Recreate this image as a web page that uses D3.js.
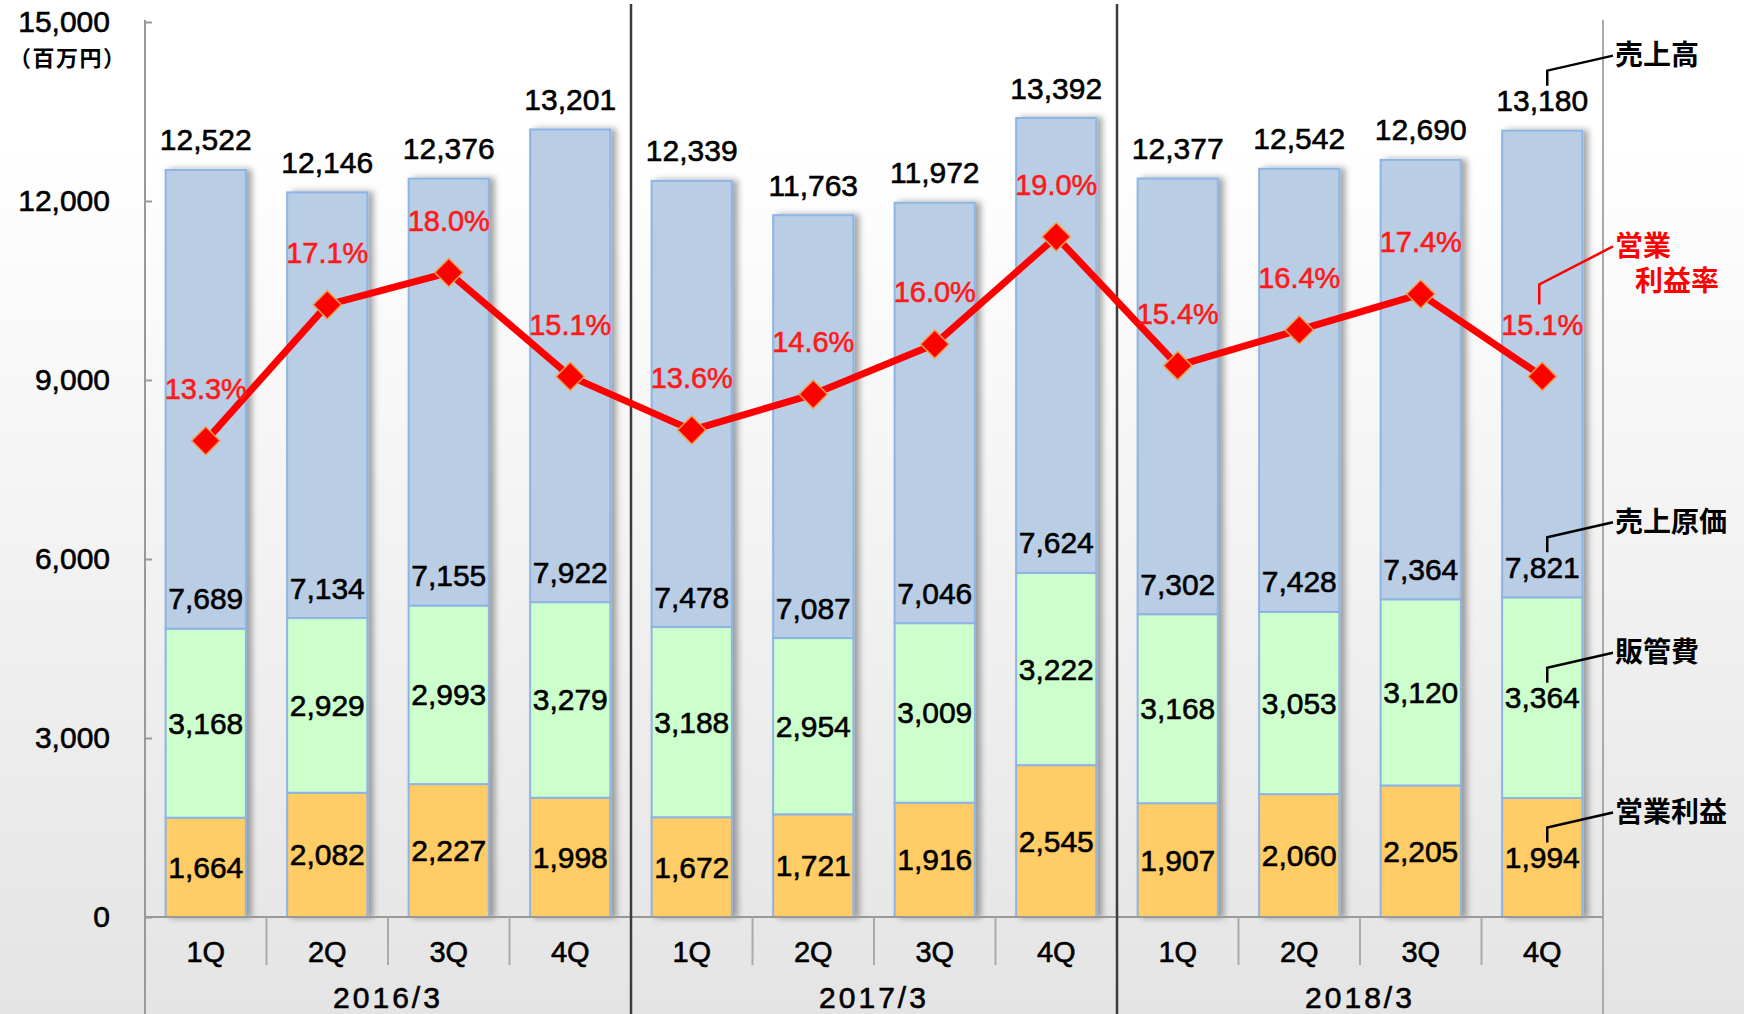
<!DOCTYPE html>
<html lang='ja'>
<head>
    <title>売上高・営業利益率 四半期推移</title>
    <meta charset='UTF-8'>
    <script src='https://d3js.org/d3.v7.min.js'></script>
    <style>
      body { margin: 0; background: #fff; }
      svg text { font-family: 'Liberation Sans', Arial, sans-serif; fill: #000; stroke: #000; stroke-width: 0.6px; }
      svg text.jp { font-family: 'Noto Sans CJK JP', sans-serif; font-weight: bold; stroke: none; }
      svg text.pct { fill: #ff1a1a; stroke: #ff1a1a; }
    </style>
</head>
<body>
<svg id='chart' width='1744' height='1014'></svg>

<script>
  // values (百万円, %)
  const quarters = ['1Q', '2Q', '3Q', '4Q', '1Q', '2Q', '3Q', '4Q', '1Q', '2Q', '3Q', '4Q']
  const fiscalYears = ['2016/3', '2017/3', '2018/3']
  const sales = [12522, 12146, 12376, 13201, 12339, 11763, 11972, 13392, 12377, 12542, 12690, 13180]
  const costOfSales = [7689, 7134, 7155, 7922, 7478, 7087, 7046, 7624, 7302, 7428, 7364, 7821]
  const sga = [3168, 2929, 2993, 3279, 3188, 2954, 3009, 3222, 3168, 3053, 3120, 3364]
  const opProfit = [1664, 2082, 2227, 1998, 1672, 1721, 1916, 2545, 1907, 2060, 2205, 1994]
  const opMargin = [13.3, 17.1, 18.0, 15.1, 13.6, 14.6, 16.0, 19.0, 15.4, 16.4, 17.4, 15.1]
  const yTicks = [0, 3000, 6000, 9000, 12000, 15000]
  const unitLabel = '（百万円）'
  const seriesNames = { op: '営業利益', sga: '販管費', cogs: '売上原価', total: '売上高' }
  const marginName = ['営業', '利益率']

  const rows = quarters.map((q, i) => ({ i: i, q: q, op: opProfit[i], sga: sga[i], cogs: costOfSales[i], total: sales[i] }))
  const keys = ['op', 'sga', 'cogs']
  const colors = { op: '#ffcc66', sga: '#ccffcc', cogs: '#b9cde5' }
  const stacked = d3.stack().keys(keys)(rows)

  const svg = d3.select('#chart')
  const plotL = 145, plotR = 1603, plotT = 22, plotB = 917

  let x = d3.scaleBand().domain(d3.range(rows.length)).range([plotL, plotR])
    .paddingInner(0.34).paddingOuter(0.17)
  let y = d3.scaleLinear().domain([0, 15000]).range([plotB, plotT])
  let y2 = d3.scaleLinear().domain([0, 25]).range([plotB, plotT])
  let cx = i => x(i) + x.bandwidth() / 2
  let fmt = d3.format(',')

  // background + shadow
  let defs = svg.append('defs')
  let grad = defs.append('linearGradient').attr('id', 'bg')
    .attr('x1', 0).attr('y1', 0).attr('x2', 0).attr('y2', 1)
  grad.append('stop').attr('offset', 0).attr('stop-color', '#ffffff')
  grad.append('stop').attr('offset', 0.14).attr('stop-color', '#ffffff')
  grad.append('stop').attr('offset', 1).attr('stop-color', '#e4e4e4')
  defs.append('filter').attr('id', 'shadow').attr('x', '-20%').attr('width', '150%')
    .append('feDropShadow').attr('dx', 5).attr('dy', 0).attr('stdDeviation', 3)
    .attr('flood-color', '#000').attr('flood-opacity', 0.35)

  svg.append('rect').attr('width', 1744).attr('height', 1014).attr('fill', 'url(#bg)')

  // stacked bars
  let barG = svg.append('g').selectAll('g.bar')
    .data(rows).enter()
    .append('g').attr('class', 'bar').attr('filter', 'url(#shadow)')

  barG.selectAll('rect')
    .data(r => stacked.map(s => ({ key: s.key, i: r.i, v: s[r.i] })))
    .enter().append('rect')
      .attr('x', d => x(d.i))
      .attr('width', x.bandwidth())
      .attr('y', d => y(d.v[1]))
      .attr('height', d => y(d.v[0]) - y(d.v[1]))
      .attr('fill', d => colors[d.key])
      .attr('stroke', '#8eb4e3')
      .attr('stroke-width', 2)

  // segment labels
  let labelG = svg.append('g').attr('font-size', 30).attr('text-anchor', 'middle')
  stacked.forEach(s => {
    labelG.selectAll('text.' + s.key)
      .data(s).enter().append('text')
        .attr('class', s.key)
        .attr('x', (d, i) => cx(i))
        .attr('y', d => s.key === 'cogs' ? y(d[0]) - 30 : y((d[0] + d[1]) / 2))
        .attr('dy', '0.35em')
        .text(d => fmt(d[1] - d[0]))
  })
  labelG.selectAll('text.total')
    .data(rows).enter().append('text')
      .attr('class', 'total')
      .attr('x', d => cx(d.i))
      .attr('y', d => y(d.op + d.sga + d.cogs) - 30)
      .attr('dy', '0.35em')
      .text(d => fmt(d.total))

  // value axis
  let yAxis = d3.axisLeft(y).tickValues(yTicks).tickFormat(fmt)
    .tickSizeInner(-7).tickSizeOuter(0).tickPadding(35)
  let axG = svg.append('g').attr('transform', `translate(${plotL},0)`).call(yAxis)
  axG.select('.domain').remove()
  axG.selectAll('line').attr('stroke', '#999').attr('stroke-width', 2)
  axG.selectAll('text').attr('font-size', 30).attr('font-family', null).attr('fill', '#000')

  svg.append('text').attr('class', 'jp')
    .attr('x', 9).attr('y', 58).attr('dy', '0.35em')
    .attr('font-size', 22).attr('letter-spacing', 1.5)
    .text(unitLabel)

  // frame lines
  svg.append('line').attr('x1', plotL).attr('x2', plotL).attr('y1', 20).attr('y2', 1014)
    .attr('stroke', '#999').attr('stroke-width', 2)
  svg.append('line').attr('x1', plotR).attr('x2', plotR).attr('y1', 20).attr('y2', 1014)
    .attr('stroke', '#aaa').attr('stroke-width', 2)
  svg.append('line').attr('x1', plotL).attr('x2', plotR).attr('y1', plotB).attr('y2', plotB)
    .attr('stroke', '#999').attr('stroke-width', 2)

  // category axis
  let step = x.step()
  svg.append('g').selectAll('line')
    .data(d3.range(1, rows.length).filter(i => i % 4 !== 0)).enter()
    .append('line')
      .attr('x1', i => plotL + i * step).attr('x2', i => plotL + i * step)
      .attr('y1', plotB).attr('y2', 965)
      .attr('stroke', '#aaa').attr('stroke-width', 2)

  svg.append('g').selectAll('line')
    .data([4, 8]).enter()
    .append('line')
      .attr('x1', i => plotL + i * step).attr('x2', i => plotL + i * step)
      .attr('y1', 4).attr('y2', 1014)
      .attr('stroke', '#3c3c3c').attr('stroke-width', 2.5)

  svg.append('g').attr('font-size', 29).attr('text-anchor', 'middle')
    .selectAll('text').data(rows).enter()
    .append('text')
      .attr('x', d => cx(d.i)).attr('y', 952).attr('dy', '0.35em')
      .text(d => d.q)

  svg.append('g').attr('font-size', 30).attr('text-anchor', 'middle')
    .selectAll('text').data(fiscalYears).enter()
    .append('text')
      .attr('x', (d, i) => plotL + (i * 4 + 2) * step).attr('y', 997).attr('dy', '0.35em')
      .attr('letter-spacing', 3)
      .text(d => d)

  // operating margin line
  let line = d3.line().x((d, i) => cx(i)).y(d => y2(d))
  svg.append('path').datum(opMargin)
    .attr('d', line)
    .attr('fill', 'none')
    .attr('stroke', '#ff0000')
    .attr('stroke-width', 7)
    .attr('stroke-linejoin', 'round')

  svg.append('g').selectAll('path')
    .data(opMargin).enter()
    .append('path')
      .attr('d', d3.symbol(d3.symbolSquare, 400))
      .attr('transform', (d, i) => `translate(${cx(i)},${y2(d)}) rotate(45)`)
      .attr('fill', '#ff0000')
      .attr('stroke', '#f0a048')
      .attr('stroke-width', 1.5)

  svg.append('g').attr('font-size', 29).attr('text-anchor', 'middle')
    .selectAll('text').data(opMargin).enter()
    .append('text')
      .attr('class', 'pct')
      .attr('x', (d, i) => cx(i)).attr('y', d => y2(d) - 52).attr('dy', '0.35em')
      .text(d => d.toFixed(1) + '%')

  // series names with leader lines, hung off the last bar
  let last = rows.length - 1
  let nameX = 1615, elbowX = cx(last) + 5
  let leaders = [
    { name: seriesNames.total, at: y(rows[last].op + rows[last].sga + rows[last].cogs) - 30 },
    { name: seriesNames.cogs, at: y(rows[last].op + rows[last].sga) - 30 },
    { name: seriesNames.sga, at: y(rows[last].op + rows[last].sga / 2) },
    { name: seriesNames.op, at: y(rows[last].op / 2) }
  ]
  leaders.forEach(l => {
    let ty = l.at - 45
    svg.append('polyline')
      .attr('points', [[nameX - 2, ty], [elbowX, l.at - 30], [elbowX, l.at - 15]].join(' '))
      .attr('fill', 'none').attr('stroke', '#000').attr('stroke-width', 2.5)
    svg.append('text').attr('class', 'jp')
      .attr('x', nameX).attr('y', ty).attr('dy', '0.35em')
      .attr('font-size', 28)
      .text(l.name)
  })

  let mAt = y2(opMargin[last]) - 52
  svg.append('polyline')
    .attr('points', [[nameX - 2, mAt - 78], [elbowX - 8, mAt - 40], [elbowX - 8, mAt - 20]].join(' '))
    .attr('fill', 'none').attr('stroke', '#ff0000').attr('stroke-width', 2.5)
  svg.append('g').attr('font-size', 28)
    .selectAll('text').data(marginName).enter()
    .append('text').attr('class', 'jp')
      .attr('x', (d, i) => nameX + i * 20)
      .attr('y', (d, i) => mAt - 78 + i * 35).attr('dy', '0.35em')
      .style('fill', '#ff0000')
      .text(d => d)
</script>
</body>
</html>
